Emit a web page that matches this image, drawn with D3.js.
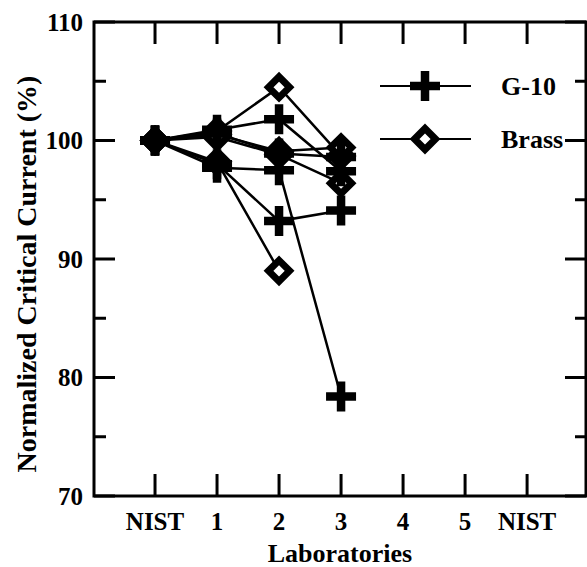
<!DOCTYPE html>
<html>
<head>
<meta charset="utf-8">
<script src="https://cdn.jsdelivr.net/npm/d3@7"></script>
<style>
  html, body { margin: 0; padding: 0; background: #fff; }
  svg text { font-family: "Liberation Serif", "Times New Roman", serif; font-weight: bold; fill: #000; }
</style>
</head>
<body>
<svg id="chart"></svg>
<script>
// chart size
const width = 587;
const height = 567;

// categories along x (index = position)
const labLabels = ['NIST', '1', '2', '3', '4', '5', 'NIST'];
const majorTicks = [70, 80, 90, 100, 110];
const minorTicks = [75, 85, 95, 105];

// normalized critical current (%) per sample, NIST -> lab 1 -> lab 2 -> lab 3
const g10Series = [
    [100, 100.9, 101.8, 97.4],
    [100, 97.7, 97.5, 78.4],
    [100, 98.0, 93.2, 94.1],
    [100, 100.6, 98.9, 98.6]
];
const brassSeries = [
    [100, 100.8, 104.5, 98.7],
    [100, 100.5, 99.1, 99.4],
    [100, 98.2, 89.0],
    [100, 100.3, 98.8, 96.4]
];
const legendItems = ['G-10', 'Brass'];

const svg = d3.select('svg#chart').attr('width', width).attr('height', height);

const x = d3.scaleLinear().domain([-0.984, 6.95]).range([94, 586]);
const y = d3.scaleLinear().domain([70, 110]).range([496, 22]);
const [plotLeft, plotRight] = x.range();
const [plotBottom, plotTop] = y.range();

// frame
svg.append('rect')
    .attr('x', plotLeft).attr('y', plotTop)
    .attr('width', plotRight - plotLeft).attr('height', plotBottom - plotTop)
    .attr('fill', 'none').attr('stroke', '#000').attr('stroke-width', 3);

// tick marks, all pointing inward
const tickMarks = svg.append('g');
const tick = (x1, y1, x2, y2) => tickMarks.append('line')
    .attr('x1', x1).attr('y1', y1).attr('x2', x2).attr('y2', y2)
    .style('stroke', '#000').style('stroke-width', '3px');
d3.range(labLabels.length).forEach(i => {
    tick(x(i), plotBottom, x(i), plotBottom - 22);
    tick(x(i), plotTop, x(i), plotTop + 22);
});
majorTicks.forEach(v => {
    tick(plotLeft, y(v), plotLeft + 21, y(v));
    tick(plotRight, y(v), plotRight - 21, y(v));
});
minorTicks.forEach(v => {
    tick(plotLeft, y(v), plotLeft + 12, y(v));
    tick(plotRight, y(v), plotRight - 11, y(v));
});

// tick labels
svg.append('g').selectAll('text')
    .data(labLabels)
    .enter().append('text')
    .attr('x', (d, i) => x(i))
    .attr('y', 530)
    .attr('text-anchor', 'middle')
    .attr('font-size', 25)
    .text(d => d);

svg.append('g').selectAll('text')
    .data(majorTicks)
    .enter().append('text')
    .attr('x', plotLeft - 11)
    .attr('y', d => y(d) + 8.5)
    .attr('text-anchor', 'end')
    .attr('font-size', 25)
    .text(d => d);

// axis titles
svg.append('text')
    .attr('x', (plotLeft + plotRight) / 2)
    .attr('y', 562)
    .attr('text-anchor', 'middle')
    .attr('font-size', 26)
    .text('Laboratories');

svg.append('text')
    .attr('transform', 'translate(36,274) rotate(-90)')
    .attr('text-anchor', 'middle')
    .attr('font-size', 28)
    .text('Normalized Critical Current (%)');

// markers
const plusPath = 'M-15,0H15M0,-15V15';
const diamondPath = 'M0,-10.5L10.5,0L0,10.5L-10.5,0Z';

function drawPlus(sel) {
    sel.append('path').attr('d', plusPath)
        .attr('stroke', '#000').attr('stroke-width', 8.5).attr('fill', 'none');
}
function drawDiamond(sel) {
    sel.append('path').attr('d', diamondPath)
        .attr('stroke', '#000').attr('stroke-width', 7).attr('fill', '#fff')
        .attr('stroke-linejoin', 'miter');
}

const line = d3.line().x((d, i) => x(i)).y(d => y(d));
const plot = svg.append('g');

// connecting lines
plot.selectAll('path.series')
    .data(g10Series.concat(brassSeries))
    .enter().append('path')
    .attr('class', 'series')
    .attr('d', line)
    .attr('fill', 'none')
    .attr('stroke', '#000')
    .attr('stroke-width', 2.5);

// diamonds first, pluses on top
brassSeries.forEach(s => {
    s.forEach((v, i) => {
        plot.append('g').attr('transform', `translate(${x(i)},${y(v)})`).call(drawDiamond);
    });
});
g10Series.forEach(s => {
    s.forEach((v, i) => {
        plot.append('g').attr('transform', `translate(${x(i)},${y(v)})`).call(drawPlus);
    });
});

// legend
const legend = svg.append('g');
legendItems.forEach((name, k) => {
    const ly = 86 + k * 53;
    legend.append('line')
        .attr('x1', 380).attr('x2', 471).attr('y1', ly).attr('y2', ly)
        .attr('stroke', '#000').attr('stroke-width', 2);
    const m = legend.append('g').attr('transform', `translate(425,${ly})`);
    if (k === 0) drawPlus(m); else drawDiamond(m);
    legend.append('text')
        .attr('x', 501).attr('y', ly + 9)
        .attr('font-size', 26)
        .text(name);
});
</script>
</body>
</html>
